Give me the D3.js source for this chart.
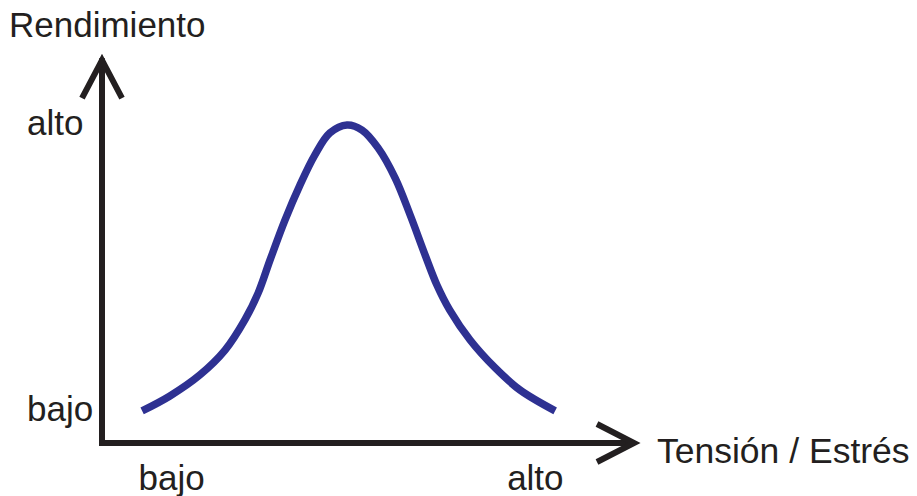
<!DOCTYPE html>
<html><head><meta charset="utf-8">
<script src="https://cdn.jsdelivr.net/npm/d3@7"></script>
<style>body{margin:0;background:#fff}svg{display:block}text{font-family:"Liberation Sans",Arial,sans-serif;fill:#231f20}</style>
</head><body>
<script>
const xTickLabels = ["bajo", "alto"];
const yTickLabels = ["bajo", "alto"];
const xTickValues = [13, 81];
const yTickValues = [10, 100];
const curveX = [7.5,12.7,18.3,23.0,26.7,29.2,31.4,34.2,37.0,39.8,42.6,45.8,48.6,51.6,54.8,57.6,60.4,62.6,65.0,68.8,73.5,78.1,84.7];
const curveY = [10.1,14.8,21.4,29.2,38.7,47.2,57.5,70.1,81.1,90.6,97.5,100,98.4,92.8,83.3,71.7,59.1,49.7,41.8,32.4,23.6,16.7,10.1];
const xTitle = "Tensión / Estrés";
const yTitle = "Rendimiento";

const W = 917, H = 496;
const svg = d3.select("body").append("svg").attr("width", W).attr("height", H);
const x = d3.scaleLinear().domain([0, 100]).range([102, 637]);
const y = d3.scaleLinear().domain([0, 100]).range([443, 125]);
const ink = "#231f20";

// axes
const ax = svg.append("g").attr("fill", "none").attr("stroke", ink).attr("stroke-width", 6);
ax.append("path").attr("d", `M${x(0)},${y(0)+3}V${y(121)}`);
ax.append("path").attr("d", `M${x(0)-3},${y(0)}H${x(100)-2}`);
// arrowheads
ax.append("path").attr("stroke-linejoin", "miter").attr("stroke-miterlimit", 10)
  .attr("d", `M${x(0)-20},${y(121)+40}L${x(0)},${y(121)+2}L${x(0)+20},${y(121)+40}`);
ax.append("path").attr("stroke-linejoin", "miter").attr("stroke-miterlimit", 10)
  .attr("d", `M${x(100)-40},${y(0)-19}L${x(100)-3},${y(0)}L${x(100)-40},${y(0)+19}`);

// curve
const pts = curveX.map((v, i) => [v, curveY[i]]);
svg.append("path").datum(pts)
  .attr("fill", "none").attr("stroke", "#2e3192").attr("stroke-width", 7.5)
  .attr("d", d3.line().x(d => x(d[0])).y(d => y(d[1])).curve(d3.curveCatmullRom.alpha(0.5)));

// tick labels
svg.selectAll("text.xt").data(xTickValues).enter().append("text")
  .attr("x", d => x(d)).attr("y", 490).attr("text-anchor", "middle")
  .attr("font-size", 35).text((d, i) => xTickLabels[i]);
svg.selectAll("text.yt").data(yTickValues).enter().append("text")
  .attr("x", 27).attr("y", d => y(d) + 10).attr("text-anchor", "start")
  .attr("font-size", 35).text((d, i) => yTickLabels[i]);

// titles
svg.append("text").attr("x", 9).attr("y", 37).attr("font-size", 35).text(yTitle);
svg.append("text").attr("x", 657).attr("y", 463).attr("font-size", 35.5).text(xTitle);
</script>
</body></html>
